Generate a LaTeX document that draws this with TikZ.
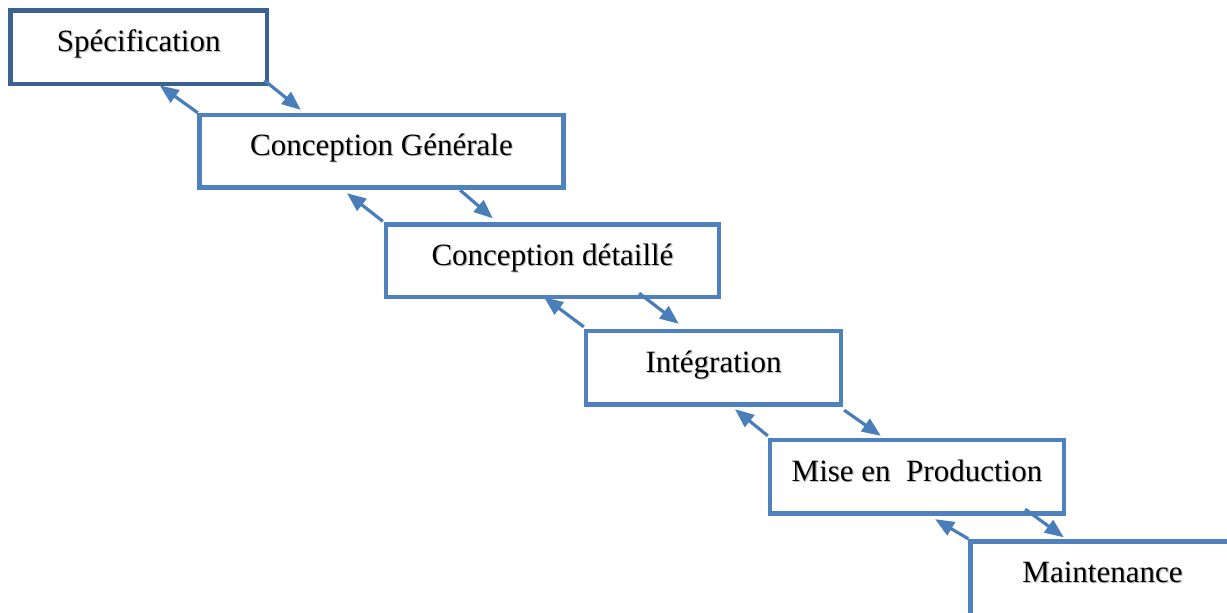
\documentclass[tikz,border=0pt]{standalone}
\usepackage{fontspec}
\setmainfont{Liberation Serif}
\usetikzlibrary{arrows.meta,calc}

\definecolor{boxblue}{HTML}{4F81BD}
\definecolor{darkboxblue}{HTML}{3C6090}
\definecolor{arrowblue}{HTML}{4A7EBB}

% text with a soft grey drop shadow
\newcommand\shadowed[1]{\rlap{\kern1.2pt\raisebox{-1.2pt}{\textcolor{black!25}{#1}}}#1}

\tikzset{
  phase/.style={draw=boxblue, line width=4.3pt, fill=white, rectangle,
    inner sep=0pt, text height=22pt, text depth=13pt,
    font=\fontsize{31pt}{36pt}\selectfont},
  flow/.style={draw=arrowblue, line width=3.2pt,
    -{Triangle[length=19pt,width=15pt]}}
}

\begin{document}
\begin{tikzpicture}[x=1pt,y=-1pt]
\useasboundingbox (0,0) rectangle (1227,613);

% phases of the waterfall
\node[phase, draw=darkboxblue, line width=4.8pt, minimum width=256.5pt, minimum height=73.5pt]
  (b1) at (138.75,47.25) {\shadowed{Spécification}};
\node[phase, minimum width=364pt, minimum height=72.5pt]
  (b2) at (381.5,151.25) {\shadowed{Conception Générale}};
\node[phase, minimum width=333pt, minimum height=72.5pt]
  (b3) at (552.5,260.75) {\shadowed{Conception détaillé}};
\node[phase, minimum width=255pt, minimum height=73.5pt]
  (b4) at (713.5,367.75) {\shadowed{Intégration}};
\node[phase, minimum width=294pt, minimum height=73.5pt]
  (b5) at (917,476.75) {\shadowed{Mise en~ Production}};
\node[phase, minimum width=264pt, minimum height=73.5pt]
  (b6) at (1102.5,578.25) {\shadowed{Maintenance}\hspace{9pt}};

% forward (down) and backward (up) transitions
\draw[flow] ($(b1.south east)+(-5,-6)$) -- ($(b2.north west)+(103.5,-3)$);
\draw[flow] ($(b2.north west)+(0.5,0)$) -- ($(b1.south)+(21,-1)$);

\draw[flow] ($(b2.south east)+(-105.5,0.5)$) -- ($(b3.north west)+(109,-4)$);
\draw[flow] ($(b3.north west)+(-1,-1)$) -- ($(b2.south)+(-34.5,3.5)$);

\draw[flow] ($(b3.south east)+(-82,-6)$) -- ($(b4.north west)+(95,-5)$);
\draw[flow] ($(b4.north west)+(0,-2)$) -- ($(b3.south)+(-8.5,-2)$);

\draw[flow] ($(b4.south east)+(1,3.5)$) -- ($(b5.north west)+(113,-2)$);
\draw[flow] ($(b5.north west)+(0,-2)$) -- ($(b4.south)+(21.5,2.5)$);

\draw[flow] ($(b5.south east)+(-41,-6.5)$) -- ($(b6.north west)+(95.5,-2)$);
\draw[flow] ($(b6.north west)+(0,-0.5)$) -- ($(b5.south)+(18,3.5)$);
\end{tikzpicture}
\end{document}
